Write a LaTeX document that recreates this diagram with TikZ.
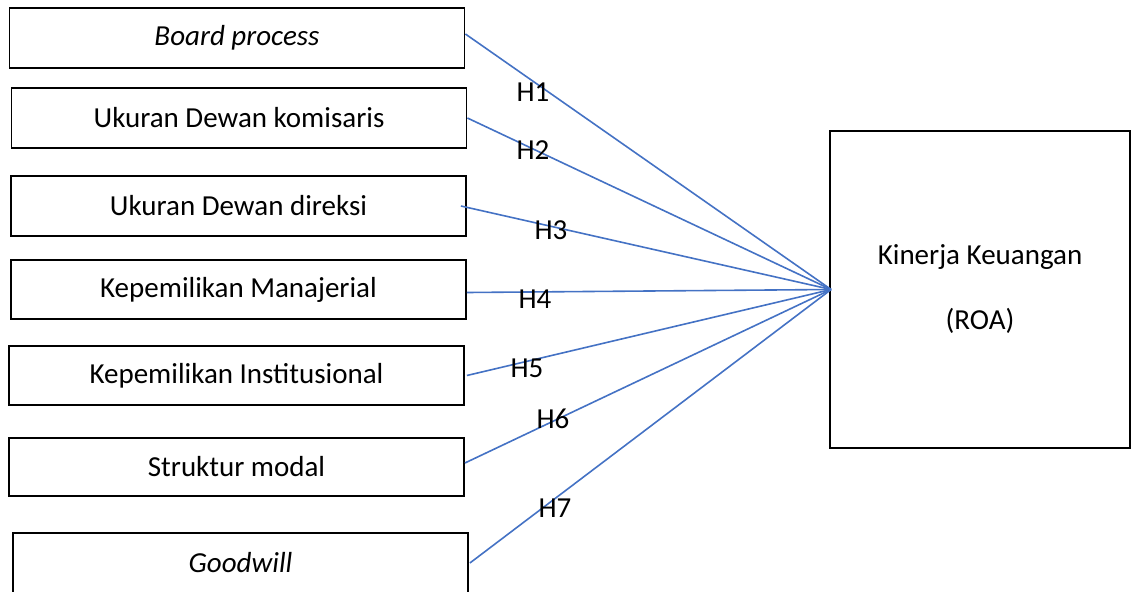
\documentclass[tikz,border=0pt]{standalone}
\usepackage{fontspec}
\setmainfont{Carlito}
\usepackage{xcolor}
\usepackage{tikz}
\definecolor{lineblue}{RGB}{68,114,196}

\begin{document}
\begin{tikzpicture}[
		x=1pt, y=-1pt,
		var/.style={
			draw,
			line width=1.8pt,
			minimum width=455pt,
			minimum height=59pt,
			inner sep=0pt,
			font=\fontsize{29}{35}\selectfont
			},
		link/.style={
			line width=1.6pt,
			color=lineblue
			},
		hyp/.style={
			inner sep=0pt,
			font=\fontsize{29}{35}\selectfont
			}
		]
		\useasboundingbox (0,0) rectangle (1131,591);

		% independent variables
		\node[var, minimum height=60pt] (bp) at (237,38) {\itshape Board process};
		\node[var, minimum height=60pt] (udk) at (239,118) {Ukuran Dewan komisaris};
		\node[var, minimum height=60pt] (udd) at (238.5,206) {Ukuran Dewan direksi};
		\node[var] (kman) at (238.5,289.5) {Kepemilikan Manajerial};
		\node[var] (kins) at (236.5,375.5) {Kepemilikan Institusional};
		\node[var, minimum height=58pt] (sm) at (236.5,467) {Struktur modal};
		\node[var, minimum height=60pt] (gw) at (240.5,563) {\itshape Goodwill};

		% dependent variable
		\node[var, minimum width=300pt, minimum height=317pt, align=center] (roa) at (980,289.5) {Kinerja Keuangan\\[30pt](ROA)};

		% hypotheses
		\draw[link] ([yshift=4pt]bp.east) -- ([xshift=2pt]roa.west);
		\draw[link] (udk.east) -- ([xshift=2pt]roa.west);
		\draw[link] ([xshift=-6pt]udd.east) -- ([xshift=2pt]roa.west);
		\draw[link] ([yshift=-3pt]kman.east) -- ([xshift=2pt]roa.west);
		\draw[link] ([xshift=2pt]kins.east) -- ([xshift=2pt]roa.west);
		\draw[link] ([yshift=4pt]sm.east) -- ([xshift=2pt]roa.west);
		\draw[link] ([xshift=1pt]gw.east) -- ([xshift=2pt]roa.west);

		\path (533,92) node[hyp] (h1) {H1};
		\path (533,150) node[hyp] (h2) {H2};
		\path (551,230) node[hyp] (h3) {H3};
		\path (535,299) node[hyp] (h4) {H4};
		\path (527,368) node[hyp] (h5) {H5};
		\path (553,419) node[hyp] (h6) {H6};
		\path (555,508) node[hyp] (h7) {H7};

	\end{tikzpicture}
\end{document}
